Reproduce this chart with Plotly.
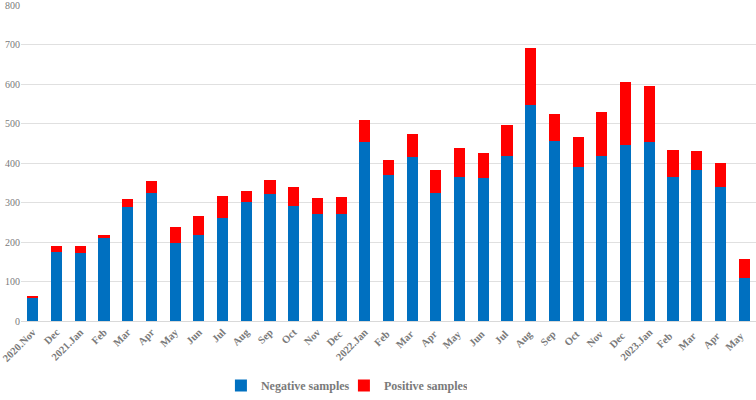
import plotly.graph_objects as go

months = ["2020.Nov", "Dec", "2021.Jan", "Feb", "Mar", "Apr", "May", "Jun", "Jul", "Aug",
          "Sep", "Oct", "Nov", "Dec ", "2022.Jan", "Feb ", "Mar ", "Apr ", "May ", "Jun ",
          "Jul ", "Aug ", "Sep ", "Oct ", "Nov ", "Dec  ", "2023.Jan", "Feb  ", "Mar  ", "Apr  ", "May  "]

negative = [59, 175, 171, 210, 289, 324, 198, 218, 260, 302,
            321, 290, 271, 271, 453, 369, 415, 325, 364, 361,
            418, 547, 455, 389, 418, 446, 452, 365, 382, 340, 108]

total = [64, 191, 191, 218, 310, 355, 237, 267, 317, 330,
         357, 339, 312, 315, 509, 407, 473, 382, 437, 425,
         495, 691, 525, 465, 530, 604, 595, 434, 431, 401, 158]

positive = [t - n for t, n in zip(total, negative)]

font_fam = "Liberation Serif"
gray = "#7a7a7a"

fig = go.Figure()
fig.add_trace(go.Bar(x=months, y=negative, name="Negative samples",
                     marker=dict(color="#0070C0", line=dict(width=0))))
fig.add_trace(go.Bar(x=months, y=positive, name="Positive samples",
                     marker=dict(color="#FF0000", line=dict(width=0))))

fig.update_layout(
    barmode="stack",
    bargap=0.53,
    width=756, height=400,
    margin=dict(l=21, r=0, t=5, b=75),
    plot_bgcolor="white", paper_bgcolor="white",
    font=dict(family=font_fam, color=gray),
    showlegend=True,
    legend=dict(orientation="h", x=0.272, xanchor="left", y=-0.205, yanchor="middle",
                font=dict(family=font_fam, size=12, color=gray, weight="bold"),
                itemwidth=30, traceorder="normal",
                entrywidth=78, entrywidthmode="pixels"),
    xaxis=dict(tickangle=-45, automargin=False,
               tickfont=dict(family=font_fam, size=10.5, color=gray, weight="bold"),
               showgrid=False, showline=True, linecolor="#d9d9d9", linewidth=1, ticks=""),
    yaxis=dict(range=[0, 800], dtick=100, automargin=False, ticklabeloverflow="allow",
               tickfont=dict(family=font_fam, size=10, color=gray),
               showgrid=True, gridcolor="#e0e0e0", gridwidth=1, zeroline=False, ticks=""),
)

fig.write_html("out.html", config={"displayModeBar": False},
               post_script="document.body.style.margin='0';document.body.style.overflow='hidden';")
